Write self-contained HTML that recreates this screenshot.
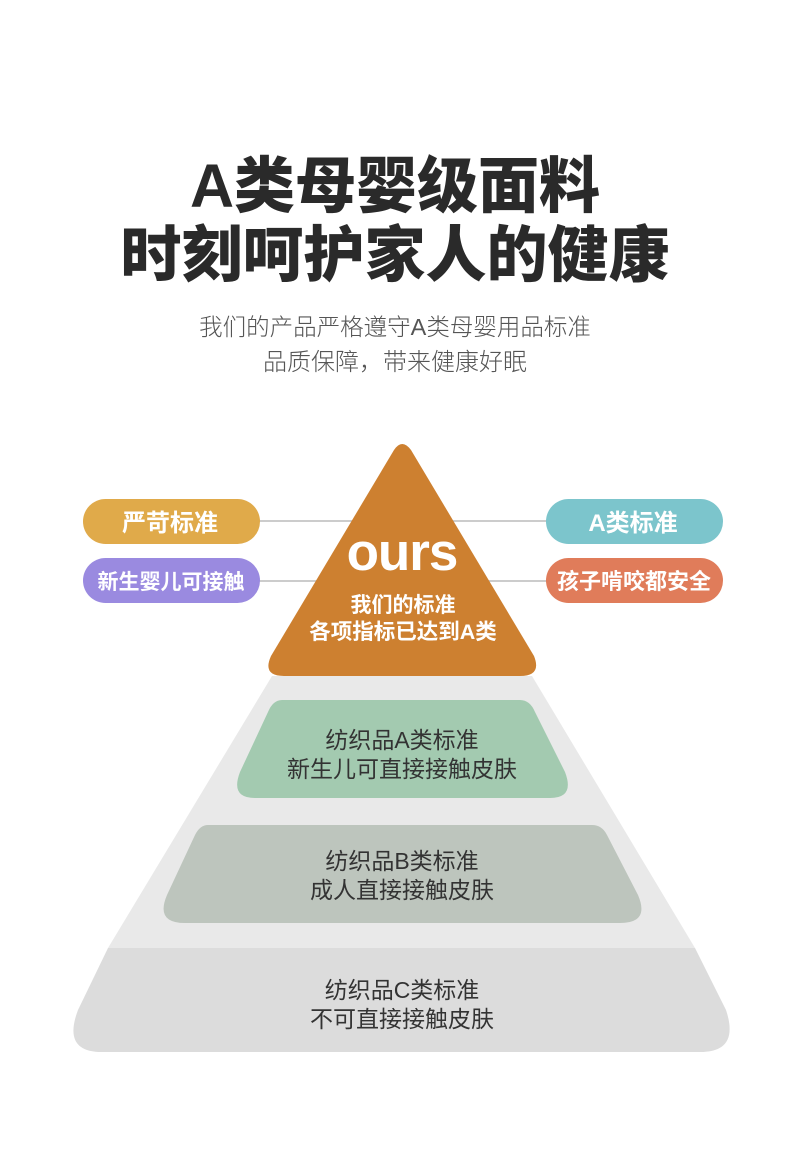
<!DOCTYPE html>
<html><head><meta charset="utf-8"><style>
body{margin:0;width:790px;height:1160px;background:#fff;overflow:hidden}
svg{display:block}
text{font-family:"Liberation Sans","Noto Sans CJK SC",sans-serif}
</style></head><body>
<svg width="790" height="1160" viewBox="0 0 790 1160">
<text x="395" y="207" text-anchor="middle" font-size="61" font-weight="900" fill="#2a2a2a">A类母婴级面料</text>
<text x="395" y="276" text-anchor="middle" font-size="61" font-weight="900" fill="#2a2a2a">时刻呵护家人的健康</text>
<text x="395" y="335" text-anchor="middle" font-size="23.5" font-weight="300" fill="#555">我们的产品严格遵守A类母婴用品标准</text>
<text x="395" y="370" text-anchor="middle" font-size="24" font-weight="300" fill="#555">品质保障，带来健康好眠</text>

<path d="M272 676 L532 676 L695 948 L108 948 Z" fill="#e9e9e9"/>
<path d="M108 948 L695 948 L726 1010 Q740 1052 700 1052 L102 1052 Q62 1052 78 1010 Z" fill="#dcdcdc"/>
<path d="M282 700 L520 700 Q530 700 535 712 L565 772 Q575 798 550 798 L255 798 Q230 798 240 772 L268 712 Q273 700 282 700 Z" fill="#a3cab0"/>
<path d="M208 825 L592 825 Q602 825 607 835 L638 895 Q650 923 620 923 L185 923 Q155 923 167 895 L195 835 Q200 825 208 825 Z" fill="#bdc5bd"/>

<line x1="258" y1="521" x2="560" y2="521" stroke="#bbb" stroke-width="1.5"/>
<line x1="258" y1="581" x2="560" y2="581" stroke="#bbb" stroke-width="1.5"/>
<path d="M394 450 Q402 438 411 450 L534 656 Q542 676 520 676 L284 676 Q262 676 271 656 Z" fill="#cd8030"/>
<text x="402" y="570" text-anchor="middle" font-size="53" font-weight="700" fill="#fff" letter-spacing="-1">ours</text>
<text x="403" y="612" text-anchor="middle" font-size="21" font-weight="700" fill="#fff">我们的标准</text>
<text x="403" y="639" text-anchor="middle" font-size="21.5" font-weight="700" fill="#fff">各项指标已达到A类</text>

<rect x="83" y="499" width="177" height="45" rx="22.5" fill="#e0aa4a"/>
<text x="170" y="531" text-anchor="middle" font-size="24" font-weight="700" fill="#fff">严苛标准</text>
<rect x="83" y="558" width="177" height="45" rx="22.5" fill="#9a8ae0"/>
<text x="171" y="589" text-anchor="middle" font-size="21" font-weight="700" fill="#fff">新生婴儿可接触</text>
<rect x="546" y="499" width="177" height="45" rx="22.5" fill="#7cc5cc"/>
<text x="633" y="531" text-anchor="middle" font-size="24" font-weight="700" fill="#fff">A类标准</text>
<rect x="546" y="558" width="177" height="45" rx="22.5" fill="#e07c5a"/>
<text x="634" y="589" text-anchor="middle" font-size="22" font-weight="700" fill="#fff">孩子啃咬都安全</text>

<g font-size="23" fill="#333" text-anchor="middle">
<text x="402" y="748">纺织品A类标准</text>
<text x="402" y="777">新生儿可直接接触皮肤</text>
<text x="402" y="869">纺织品B类标准</text>
<text x="402" y="898">成人直接接触皮肤</text>
<text x="402" y="998">纺织品C类标准</text>
<text x="402" y="1027">不可直接接触皮肤</text>
</g>
</svg>
</body></html>
